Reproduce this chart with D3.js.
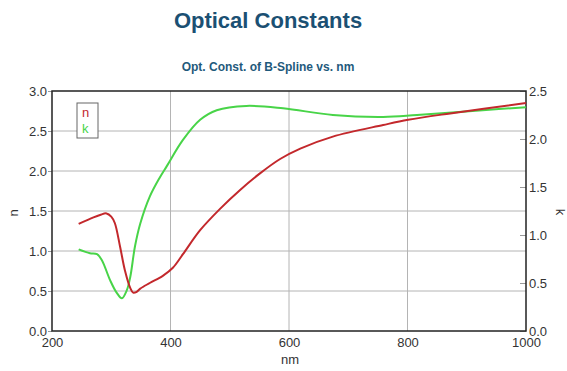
<!DOCTYPE html>
<html>
<head>
<meta charset="utf-8">
<script src="https://cdn.jsdelivr.net/npm/d3@7"></script>
<style>
  body { margin: 0; background: #fff; }
  text { font-family: "Liberation Sans", Arial, sans-serif; }
</style>
</head>
<body>
<script>
// n curve
var nmN  = [245, 270, 281, 292, 300, 306, 315, 323, 332, 337, 343, 349, 365, 387, 404, 421, 450, 484, 517, 551, 585, 619, 674, 759, 801, 872, 1000];
var nVal = [1.34, 1.42, 1.45, 1.47, 1.43, 1.35, 1.05, 0.76, 0.54, 0.48, 0.49, 0.53, 0.60, 0.69, 0.79, 0.96, 1.26, 1.53, 1.76, 1.97, 2.15, 2.28, 2.43, 2.575, 2.64, 2.72, 2.85];
// k curve
var nmK  = [245, 264, 276, 284, 298, 309, 318, 326, 332, 340, 349, 365, 382, 394, 421, 450, 478, 528, 590, 674, 759, 816, 927, 1000];
var kVal = [0.85, 0.81, 0.80, 0.74, 0.53, 0.40, 0.34, 0.42, 0.56, 0.88, 1.12, 1.40, 1.60, 1.72, 1.99, 2.20, 2.30, 2.345, 2.32, 2.25, 2.23, 2.25, 2.30, 2.33];

var xTicks = [200, 400, 600, 800, 1000];
var nTicks = [0, 0.5, 1.0, 1.5, 2.0, 2.5, 3.0];
var kTicks = [0, 0.5, 1.0, 1.5, 2.0, 2.5];

var W = 567, H = 371;
var m = {left: 52, right: 41, top: 91, bottom: 40};

var svg = d3.select("body").append("svg")
            .attr("width", W)
            .attr("height", H);

var x = d3.scaleLinear().domain([200, 1000]).range([m.left, W - m.right]);
var yN = d3.scaleLinear().domain([0, 3]).range([H - m.bottom, m.top]);
var yK = d3.scaleLinear().domain([0, 2.5]).range([H - m.bottom, m.top]);

// titles
svg.append("text").attr("x", 268).attr("y", 28).attr("text-anchor", "middle")
   .style("font-size", "22px").style("font-weight", "bold").style("fill", "#1b5073")
   .text("Optical Constants");
svg.append("text").attr("x", 268).attr("y", 71).attr("text-anchor", "middle")
   .style("font-size", "12px").style("font-weight", "bold").style("fill", "#1f5a7c")
   .text("Opt. Const. of B-Spline vs. nm");

// grid
var grid = svg.append("g").attr("stroke", "#b4b4b4").attr("stroke-width", 1);
grid.selectAll("line.v").data(xTicks.slice(1, -1)).enter().append("line")
    .attr("x1", function (d) { return x(d); }).attr("x2", function (d) { return x(d); })
    .attr("y1", m.top).attr("y2", H - m.bottom);
grid.selectAll("line.h").data(nTicks.slice(1, -1)).enter().append("line")
    .attr("y1", function (d) { return yN(d); }).attr("y2", function (d) { return yN(d); })
    .attr("x1", m.left).attr("x2", W - m.right);

// axes
function styleAxis(g) {
  g.select(".domain").remove();
  g.selectAll("line").attr("stroke", "#999");
  g.selectAll("text").style("font-size", "13px").style("fill", "#333")
   .style("font-family", "Liberation Sans, Arial, sans-serif");
}
svg.append("g").attr("transform", "translate(0," + (H - m.bottom) + ")")
   .call(d3.axisBottom(x).tickValues(xTicks).tickFormat(d3.format("d")).tickSize(0).tickPadding(7))
   .call(styleAxis);
svg.append("g").attr("transform", "translate(" + m.left + ",0)")
   .call(d3.axisLeft(yN).tickValues(nTicks).tickFormat(d3.format(".1f")).tickSize(4).tickPadding(1))
   .call(styleAxis);
svg.append("g").attr("transform", "translate(" + (W - m.right) + ",0)")
   .call(d3.axisRight(yK).tickValues(kTicks).tickFormat(d3.format(".1f")).tickSize(-6).tickPadding(3))
   .call(styleAxis);

// frame
svg.append("rect").attr("x", m.left).attr("y", m.top)
   .attr("width", W - m.left - m.right).attr("height", H - m.top - m.bottom)
   .attr("fill", "none").attr("stroke", "#222").attr("stroke-width", 1.5);

// axis titles
svg.append("text").attr("x", 290).attr("y", 364).attr("text-anchor", "middle")
   .style("font-size", "13px").style("fill", "#333").text("nm");
svg.append("text").attr("transform", "translate(18,213) rotate(-90)").attr("text-anchor", "middle")
   .style("font-size", "13px").style("fill", "#333").text("n");
svg.append("text").attr("transform", "translate(556,212) rotate(90)").attr("text-anchor", "middle")
   .style("font-size", "13px").style("fill", "#333").text("k");

// curves
var lineN = d3.line().curve(d3.curveCatmullRom.alpha(0.5))
  .x(function (d, i) { return x(nmN[i]); }).y(function (d) { return yN(d); });
var lineK = d3.line().curve(d3.curveCatmullRom.alpha(0.5))
  .x(function (d, i) { return x(nmK[i]); }).y(function (d) { return yK(d); });

svg.append("path").datum(kVal).attr("d", lineK)
   .attr("fill", "none").attr("stroke", "#48d448").attr("stroke-width", 2);
svg.append("path").datum(nVal).attr("d", lineN)
   .attr("fill", "none").attr("stroke", "#c3282c").attr("stroke-width", 2);

// legend
svg.append("rect").attr("x", 77).attr("y", 103).attr("width", 21).attr("height", 35)
   .attr("fill", "#fff").attr("stroke", "#666").attr("stroke-width", 1);
svg.append("text").attr("x", 82).attr("y", 117).style("font-size", "13px").style("fill", "#c3282c").text("n");
svg.append("text").attr("x", 82).attr("y", 133).style("font-size", "13px").style("fill", "#48d448").text("k");
</script>
</body>
</html>
